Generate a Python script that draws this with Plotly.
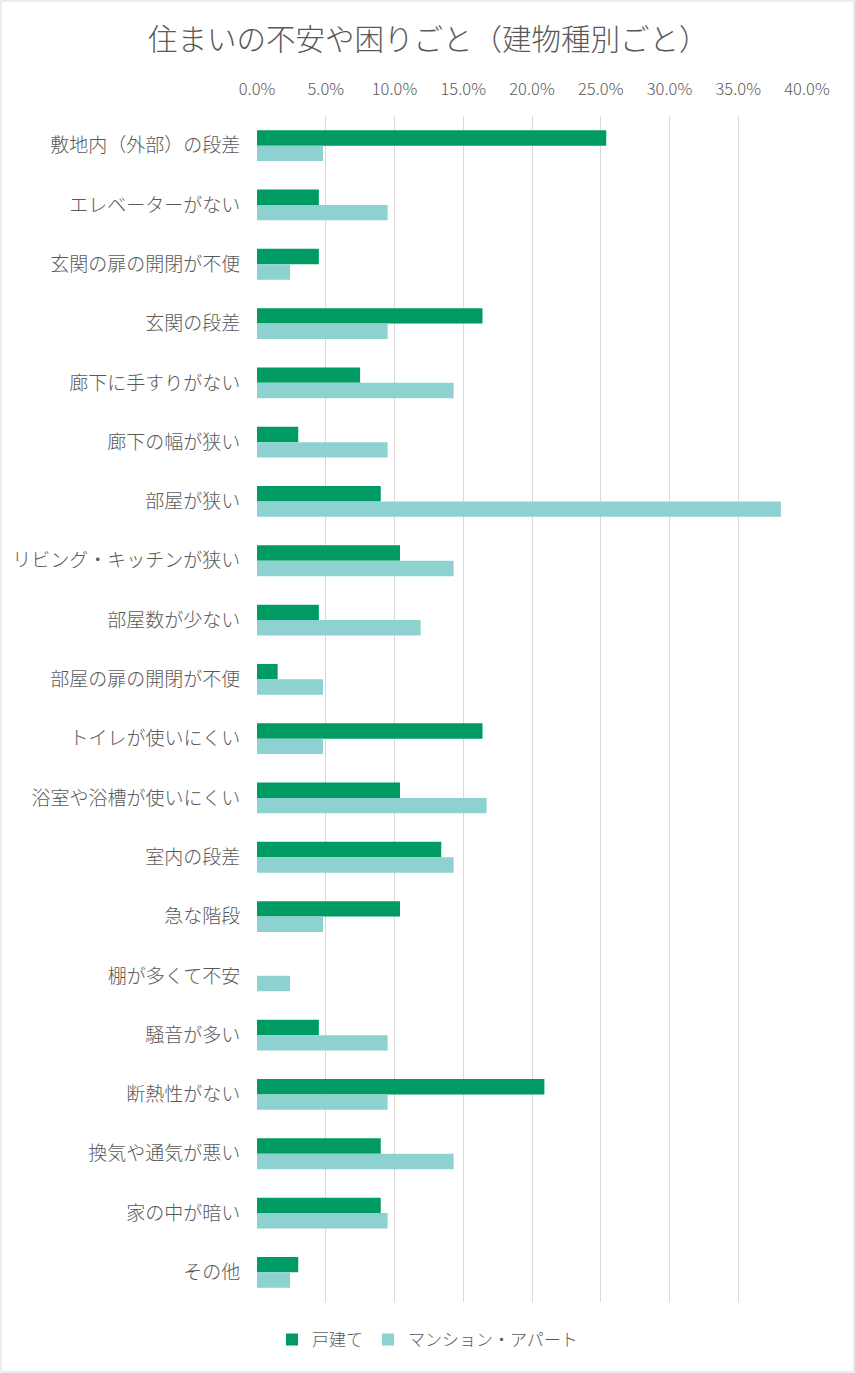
import plotly.graph_objects as go

# カテゴリ（上から順）
categories = [
    "敷地内（外部）の段差", "エレベーターがない", "玄関の扉の開閉が不便", "玄関の段差",
    "廊下に手すりがない", "廊下の幅が狭い", "部屋が狭い", "リビング・キッチンが狭い",
    "部屋数が少ない", "部屋の扉の開閉が不便", "トイレが使いにくい", "浴室や浴槽が使いにくい",
    "室内の段差", "急な階段", "棚が多くて不安", "騒音が多い",
    "断熱性がない", "換気や通気が悪い", "家の中が暗い", "その他",
]

# 戸建て (%)
detached = [25.4, 4.5, 4.5, 16.4, 7.5, 3.0, 9.0, 10.4, 4.5, 1.5,
            16.4, 10.4, 13.4, 10.4, 0.0, 4.5, 20.9, 9.0, 9.0, 3.0]
# マンション・アパート (%)
apartment = [4.8, 9.5, 2.4, 9.5, 14.3, 9.5, 38.1, 14.3, 11.9, 4.8,
             4.8, 16.7, 14.3, 4.8, 2.4, 9.5, 9.5, 14.3, 9.5, 2.4]

x_ticks = [0, 5, 10, 15, 20, 25, 30, 35, 40]

font_jp = "Noto Sans CJK JP"
grey = "#595959"

fig = go.Figure()
fig.add_trace(go.Bar(y=categories, x=detached, orientation="h",
                     name="戸建て", marker=dict(color="#009B62", line=dict(width=0))))
fig.add_trace(go.Bar(y=categories, x=apartment, orientation="h",
                     name="マンション・アパート", marker=dict(color="#8DD1D0", line=dict(width=0))))

fig.update_layout(
    width=855, height=1373,
    margin=dict(l=257, r=48, t=116, b=71, autoexpand=False),
    paper_bgcolor="white", plot_bgcolor="white",
    font=dict(family=font_jp, color=grey),
    barmode="group", bargap=0.48, bargroupgap=0,
    title=dict(text="住まいの不安や困りごと（建物種別ごと）",
               font=dict(size=29.5, color=grey, family=font_jp, weight=300),
               x=0.501, xref="container", xanchor="center",
               y=1 - 40 / 1373, yref="container", yanchor="middle"),
    legend=dict(orientation="h", x=0.31, xanchor="center",
                y=-0.032, yanchor="middle",
                font=dict(size=17, color=grey, weight=300),
                itemwidth=30, traceorder="normal"),
    showlegend=True,
)

fig.update_xaxes(
    side="top", range=[0, 40], tickvals=x_ticks,
    ticktext=[f"{v:.1f}%" for v in x_ticks],
    showgrid=True, gridcolor="#d9d9d9", gridwidth=1,
    zeroline=False, showline=False,
    ticks="outside", ticklen=13, tickcolor="rgba(0,0,0,0)",
    tickfont=dict(size=16.5, color=grey, weight=300),
)
fig.update_yaxes(
    autorange="reversed", showgrid=False, zeroline=False, showline=False,
    ticks="outside", ticklen=12, tickcolor="rgba(0,0,0,0)",
    tickfont=dict(size=19, color=grey, weight=300),
)

# 枠線
fig.add_shape(type="rect", xref="paper", yref="paper",
              x0=(1 - 257) / 550, x1=(854 - 257) / 550,
              y0=(1302 - 1372) / 1186, y1=(1302 - 1) / 1186,
              line=dict(color="#d9d9d9", width=1))

fig.write_html("out.html", config={"displayModeBar": False},
               post_script="document.body.style.margin='0px';")
